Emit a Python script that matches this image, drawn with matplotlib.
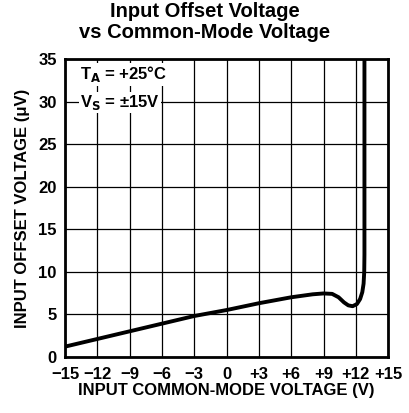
import matplotlib
matplotlib.use("Agg")
import matplotlib.pyplot as plt

plt.rcParams['font.family'] = ['Liberation Sans', 'DejaVu Sans']

# curve (V, uV)
vcm = [-15, -12, -9, -6, -3, 0, 3, 6, 8, 9, 9.8, 10.4, 10.9, 11.3, 11.7, 12.1, 12.4, 12.6, 12.72, 12.78, 12.8, 12.8]
vos = [1.2, 2.1, 3.0, 3.9, 4.8, 5.5, 6.3, 7.0, 7.35, 7.45, 7.4, 7.0, 6.4, 6.05, 5.95, 6.2, 6.8, 7.6, 8.6, 10.0, 12.0, 35.0]

xticks = [-15, -12, -9, -6, -3, 0, 3, 6, 9, 12, 15]
xlabels = ["\u221215", "\u221212", "\u22129", "\u22126", "\u22123", "0", "+3", "+6", "+9", "+12", "+15"]
yticks = [0, 5, 10, 15, 20, 25, 30, 35]

fig = plt.figure(figsize=(4.09, 4.13), dpi=100)
ax = fig.add_axes([0.159, 0.136, 0.790, 0.721])

ax.set_xlim(-15, 15)
ax.set_ylim(0, 35)
ax.set_xticks(xticks)
ax.set_xticklabels(xlabels, fontsize=12, fontweight='bold')
ax.set_yticks(yticks)
ax.set_yticklabels([str(t) for t in yticks], fontsize=12, fontweight='bold')
ax.tick_params(axis='x', length=0, pad=7)
ax.tick_params(axis='y', length=0, pad=6)
ax.grid(True, color='black', linewidth=0.9)
for s in ax.spines.values():
    s.set_linewidth(2)

ax.plot(vcm, vos, color='black', linewidth=2.8, solid_capstyle='butt', solid_joinstyle='round')

ax.text(-13.6, 33.2, "T$_\\mathbf{A}$ = +25\u00b0C", fontsize=12, fontweight='bold', va='center',
        bbox=dict(facecolor='white', edgecolor='none', pad=1))
ax.text(-13.6, 29.9, "V$_\\mathbf{S}$ = \u00b115V", fontsize=12, fontweight='bold', va='center',
        bbox=dict(facecolor='white', edgecolor='none', pad=1))

ax.set_xlabel("INPUT COMMON-MODE VOLTAGE (V)", fontsize=12, fontweight='bold', labelpad=1)
ax.set_ylabel("INPUT OFFSET VOLTAGE (\u03bcV)", fontsize=12, fontweight='bold', labelpad=6)
fig.suptitle("Input Offset Voltage\nvs Common-Mode Voltage", fontsize=14.5, fontweight='bold',
             y=0.995, linespacing=1.1)

fig.savefig("out.png", dpi=100)
